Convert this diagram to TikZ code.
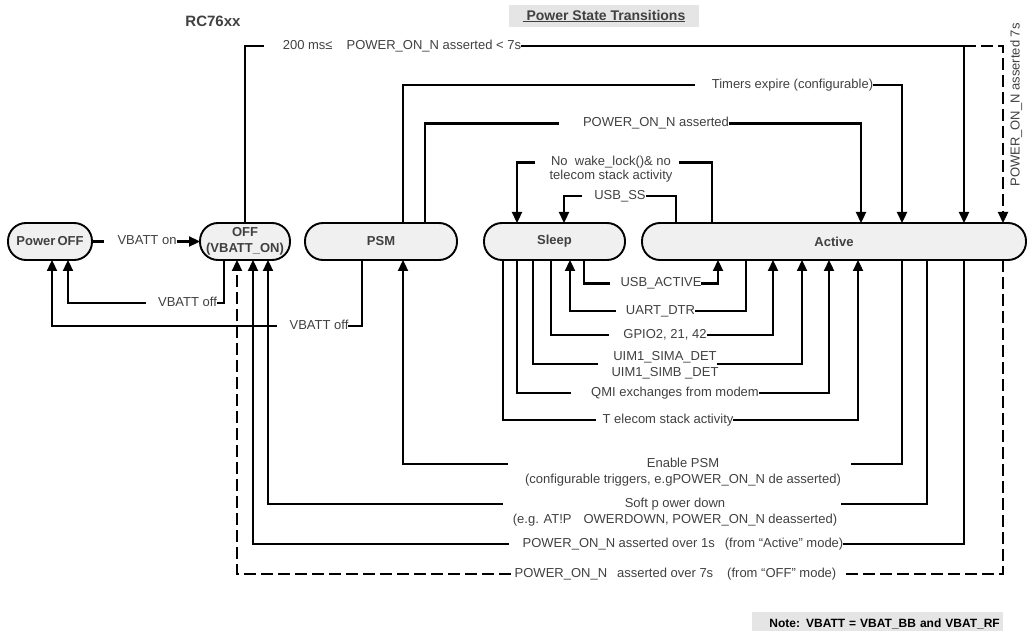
\documentclass[tikz,border=0pt]{standalone}
\usepackage{fontspec}
\setmainfont{Liberation Sans}
\usepackage{tikz}
\usetikzlibrary{positioning, arrows.meta}
\definecolor{statefill}{rgb}{0.94,0.94,0.94}
\definecolor{txtgray}{rgb}{0.25,0.25,0.25}
\definecolor{boxgray}{rgb}{0.9,0.9,0.9}
\tikzstyle{st}=[%
      rectangle, rounded corners=18pt, draw=black, line width=1.9pt, fill=statefill,
      minimum height=37pt, inner sep=0pt, outer sep=0pt, align=center, text=txtgray,
      font=\fontsize{13}{16}\selectfont\bfseries
]
\tikzstyle{lb}=[%
      inner xsep=0pt, inner ysep=1pt, outer sep=0pt, text=txtgray,
      text height=9.5pt, text depth=2.5pt, font=\fontsize{13}{16}\selectfont
]
\tikzstyle{wr}=[line width=2.3pt]
\tikzstyle{dsh}=[line width=2.3pt, dash pattern=on 12pt off 5pt]

\begin{document}
\begin{tikzpicture}[x=1pt, y=-1pt,
    >={Triangle[length=11pt, width=10pt]}
  ]
    \useasboundingbox (0,0) rectangle (1029,631);

    % states
    \node[st, minimum width=84pt]  (pwroff) at (50,241.5)           {Power\,OFF};
    \node[st, minimum width=90pt]  (off)    [right=108pt of pwroff] {OFF\\(VBATT\_ON)};
    \node[st, minimum width=152pt] (psm)    [right=15pt of off]     {PSM};
    \node[st, minimum width=141pt] (sleep)  [right=27pt of psm]     {Sleep};
    \node[st, minimum width=384pt] (active) [right=17pt of sleep]   {Active};

    % headings
    \node[font=\fontsize{15}{18}\selectfont\bfseries, text=txtgray] (chip) at (213,21) {RC76xx};
    \node[fill=boxgray, minimum width=190pt, minimum height=22pt, inner sep=0pt,
          font=\fontsize{14}{17}\selectfont\bfseries, text=txtgray] (title) at (604,16)
          {\underline{\ Power State Transitions}};
    \node[fill=boxgray, anchor=north east, text width=245pt, align=right, inner xsep=3pt,
          minimum height=24pt, font=\fontsize{12}{14}\selectfont\bfseries] (note) at (1003,612)
          {Note: VBATT = VBAT\_BB and VBAT\_RF};

    % labels
    \node[lb] (vbon)    at (147,241.5) {VBATT on};
    \node[lb] (vboff)   at (187.5,303) {VBATT off};
    \node[lb] (vboffp)  at (319,326)   {VBATT off};
    \node[lb] (pon7)    at (402,46)    {200 ms≤\hspace{14pt}POWER\_ON\_N asserted < 7s};
    \node[lb, rotate=90] (pon7r) at (1016,105) {POWER\_ON\_N asserted 7s};
    \node[lb] (timers)  at (792.5,85)  {Timers expire (configurable)};
    \node[lb] (ponas)   at (656,123.5) {POWER\_ON\_N asserted};
    \node[lb] (nowake)  at (611,162.5) {No\ \ wake\_lock()\&~no};
    \node[lb] (nowakeb) [below=-0.5pt of nowake] {telecom stack activity};
    \node[lb] (usbss)   at (620,196)   {USB\_SS};
    \node[lb] (usbact)  at (661,283.5) {USB\_ACTIVE};
    \node[lb] (uart)    at (660.5,311) {UART\_DTR};
    \node[lb] (gpio)    at (665,335)   {GPIO2, 21, 42};
    \node[lb] (uim)     at (665,357)   {UIM1\_SIMA\_DET};
    \node[lb] (uimb)    [below=2pt of uim] {UIM1\_SIMB \_DET};
    \node[lb] (qmi)     at (675,393)   {QMI exchanges from modem};
    \node[lb] (telecom) at (668,420)   {T elecom stack activity};
    \node[lb] (enpsm)   at (683,464)   {Enable PSM};
    \node[lb] (enpsmb)  [below=2pt of enpsm] {(configurable triggers, e.gPOWER\_ON\_N de asserted)};
    \node[lb] (softpd)  at (675,504)   {Soft p ower down};
    \node[lb] (softpdb) [below=2pt of softpd] {(e.g. AT!P\hspace{12pt}OWERDOWN, POWER\_ON\_N deasserted)};
    \node[lb] (pon1s)   at (683,544)   {POWER\_ON\_N asserted over 1s\hspace{10pt}(from “Active” mode)};
    \node[lb] (pon7s)   at (675.5,574) {POWER\_ON\_N\hspace{10pt}asserted over 7s\hspace{14pt}(from “OFF” mode)};

    % off / power off
    \draw[wr] (pwroff.east) -- ([xshift=-14pt]vbon.west);
    \draw[wr, ->] (vbon.east) -- (off.west);
    \draw[wr] (off.south -| 224,0) |- (vboff.east);
    \draw[wr, ->] ([xshift=-12pt]vboff.west) -| (pwroff.south -| 68,0);
    \draw[wr] (psm.south -| 362,0) |- (vboffp.east);
    \draw[wr, ->] ([xshift=-13pt]vboffp.west) -| (pwroff.south -| 52,0);

    % above the states
    \draw[wr] (off.north -| 245,0) |- ([xshift=-19pt]pon7.west);
    \draw[wr, ->] (pon7.east) -| (active.north -| 964,0);
    \coordinate (split) at (pon7.east -| 964,0);
    \draw[dsh, ->] (split) -| (active.north -| 1003,0);
    \draw[wr] (psm.north -| 403,0) |- ([xshift=-17pt]timers.west);
    \draw[wr, ->] (timers.east) -| (active.north -| 902,0);
    \draw[wr] (psm.north -| 425,0) |- ([xshift=-24pt]ponas.west);
    \draw[wr, ->] (ponas.east) -| (active.north -| 861,0);
    \draw[wr] (active.north -| 712,0) |- ([xshift=8pt]nowake.east);
    \draw[wr, ->] ([xshift=-16pt]nowake.west) -| (sleep.north -| 517,0);
    \draw[wr] (active.north -| 676,0) |- (usbss.east);
    \draw[wr, ->] ([xshift=-12pt]usbss.west) -| (sleep.north -| 564,0);

    % sleep <-> active
    \draw[wr] (sleep.south -| 584,0) |- ([xshift=-11pt]usbact.west);
    \draw[wr, ->] (usbact.east) -| (active.south -| 718,0);
    \draw[wr] (active.south -| 746,0) |- (uart.east);
    \draw[wr, ->] ([xshift=-10pt]uart.west) -| (sleep.south -| 570,0);
    \draw[wr] (sleep.south -| 551,0) |- ([xshift=-14pt]gpio.west);
    \draw[wr, ->] (gpio.east) -| (active.south -| 773,0);
    \draw[wr] (sleep.south -| 533,0) |- ([xshift=-15pt]uim.south west);
    \draw[wr, ->] (uim.south east) -| (active.south -| 802,0);
    \draw[wr] (sleep.south -| 517,0) |- ([xshift=-20pt]qmi.west);
    \draw[wr, ->] (qmi.east) -| (active.south -| 829,0);
    \draw[wr] (sleep.south -| 503,0) |- ([xshift=-7pt]telecom.west);
    \draw[wr, ->] (telecom.east) -| (active.south -| 858,0);

    % active -> psm / off
    \draw[wr] (active.south -| 902,0) |- ([xshift=10pt]enpsmb.east |- enpsm.east);
    \draw[wr, ->] ([xshift=-17pt]enpsmb.west |- enpsm.west) -| (psm.south -| 403,0);
    \draw[wr] (active.south -| 927,0) |- ([xshift=4pt]softpdb.east |- softpd.east);
    \draw[wr, ->] ([xshift=-10pt]softpdb.west |- softpd.west) -| (off.south -| 268,0);
    \draw[wr] (active.south -| 964,0) |- (pon1s.east);
    \draw[wr, ->] ([xshift=-14pt]pon1s.west) -| (off.south -| 253,0);
    \draw[dsh] (active.south -| 1003,0) |- ([xshift=5pt]pon7s.east);
    \draw[dsh, ->] ([xshift=-4pt]pon7s.west) -| (off.south -| 237,0);

  \end{tikzpicture}
\end{document}
